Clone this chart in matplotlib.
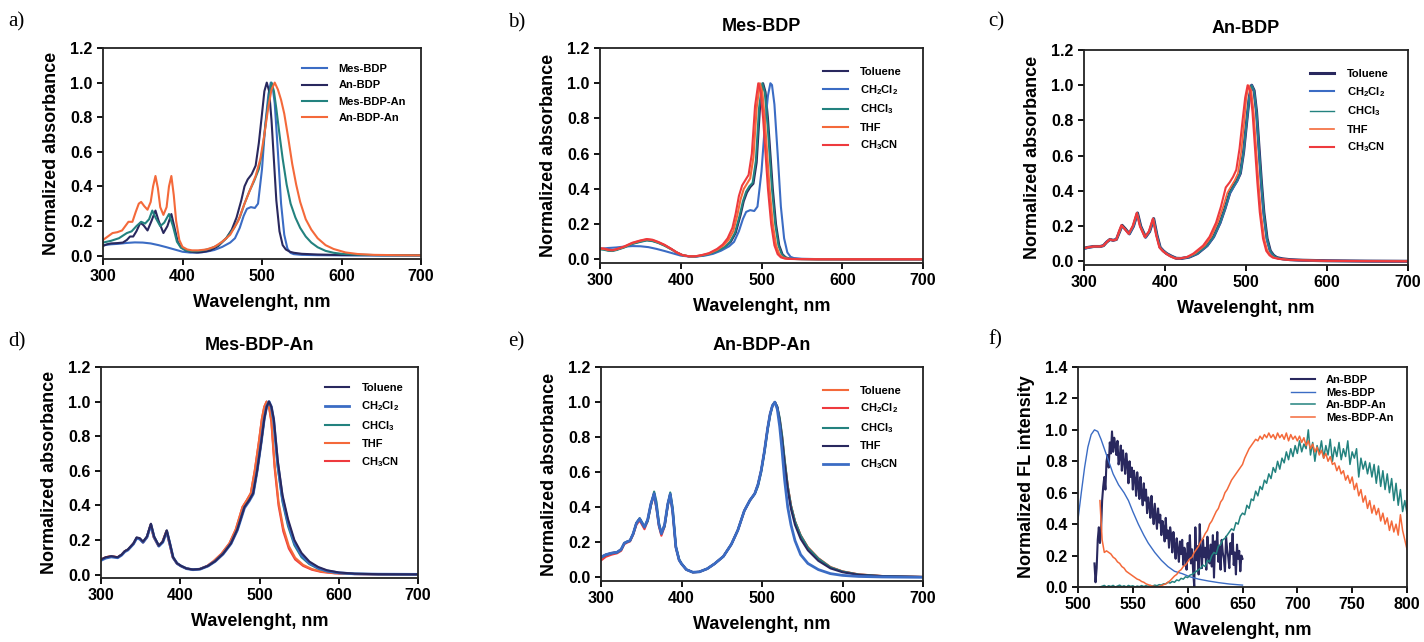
import numpy as np
import matplotlib
matplotlib.use("Agg")
import matplotlib.pyplot as plt

plt.rcParams['font.family'] = ['Liberation Sans', 'DejaVu Sans']
plt.rcParams['mathtext.fontset'] = 'custom'
plt.rcParams['mathtext.rm'] = 'Liberation Sans:bold'
plt.rcParams['mathtext.it'] = 'Liberation Sans:bold'
plt.rcParams['mathtext.bf'] = 'Liberation Sans:bold'

NAVY = '#29285e'
BLUE = '#3b6cc4'
TEAL = '#23827f'
ORANGE = '#f4693a'
RED = '#ee3a3e'

solvents = ['Toluene', 'CH$_2$Cl$_2$', 'CHCl$_3$', 'THF', 'CH$_3$CN']
compounds_a = ['Mes-BDP', 'An-BDP', 'Mes-BDP-An', 'An-BDP-An']
compounds_f = ['An-BDP', 'Mes-BDP', 'An-BDP-An', 'Mes-BDP-An']

# ---- Mes-BDP (CH2Cl2), used in a) and b)
mes_dcm_wl = [300, 310, 320, 330, 340, 350, 360, 370, 380, 390, 400, 410, 420, 430, 440, 450, 460, 466, 472, 477,
              481, 486, 491, 495, 500, 504, 508, 511, 513, 516, 520, 524, 528, 532, 536, 540, 550, 570, 600, 650, 700]
mes_dcm_abs = [0.06, 0.065, 0.068, 0.073, 0.076, 0.075, 0.07, 0.06, 0.048, 0.035, 0.022, 0.017, 0.017, 0.022, 0.032,
               0.05, 0.075, 0.1, 0.16, 0.23, 0.27, 0.28, 0.275, 0.3, 0.5, 0.75, 0.93, 1.0, 0.99, 0.88, 0.6, 0.3, 0.12,
               0.04, 0.015, 0.008, 0.004, 0.002, 0.001, 0.0, 0.0]

# ---- a) other compounds
a_an_wl = [300, 305, 310, 318, 325, 330, 334, 338, 342, 347, 351, 356, 361, 366, 370, 376, 381, 386, 390, 394, 398, 404,
           410, 418, 425, 435, 445, 455, 462, 468, 474, 478, 482, 487, 492, 496, 500, 503, 506, 509, 512, 515, 518, 522,
           526, 530, 535, 540, 550, 570, 600, 700]
a_an_abs = [0.055, 0.065, 0.07, 0.072, 0.075, 0.09, 0.11, 0.11, 0.14, 0.19, 0.175, 0.145, 0.2, 0.26, 0.2, 0.13, 0.17,
            0.24, 0.16, 0.08, 0.05, 0.03, 0.022, 0.018, 0.02, 0.03, 0.055, 0.1, 0.15, 0.22, 0.32, 0.4, 0.44, 0.47, 0.52,
            0.65, 0.82, 0.95, 1.0, 0.95, 0.78, 0.55, 0.32, 0.14, 0.06, 0.035, 0.022, 0.016, 0.01, 0.006, 0.003, 0.002]
a_mesan_wl = [300, 310, 320, 330, 336, 342, 348, 353, 358, 362, 366, 372, 377, 383, 388, 393, 398, 404, 410, 418, 426,
              435, 445, 455, 465, 472, 478, 484, 490, 496, 501, 505, 509, 512, 515, 518, 522, 526, 531, 536, 542, 548,
              555, 562, 570, 580, 590, 600, 620, 650, 700]
a_mesan_abs = [0.075, 0.085, 0.1, 0.13, 0.14, 0.17, 0.195, 0.185, 0.21, 0.26, 0.22, 0.17, 0.19, 0.24, 0.17, 0.08, 0.045,
               0.03, 0.025, 0.025, 0.03, 0.04, 0.06, 0.1, 0.16, 0.22, 0.3, 0.37, 0.43, 0.5, 0.62, 0.78, 0.93, 1.0, 0.95,
               0.85, 0.7, 0.56, 0.41, 0.3, 0.22, 0.16, 0.11, 0.075, 0.048, 0.027, 0.016, 0.01, 0.005, 0.002, 0.001]
a_anan_wl = [300, 306, 312, 318, 324, 328, 332, 337, 341, 345, 348, 352, 356, 360, 363, 366, 369, 372, 376, 380, 383,
             386, 389, 392, 396, 400, 406, 412, 420, 430, 440, 450, 460, 470, 478, 485, 492, 498, 503, 508, 512, 516,
             520, 524, 528, 533, 538, 543, 548, 555, 562, 570, 580, 590, 605, 620, 640, 670, 700]
a_anan_abs = [0.09, 0.11, 0.13, 0.135, 0.145, 0.17, 0.195, 0.195, 0.25, 0.3, 0.31, 0.285, 0.265, 0.31, 0.4, 0.46, 0.39,
              0.28, 0.235, 0.28, 0.4, 0.46, 0.35, 0.2, 0.09, 0.05, 0.035, 0.03, 0.03, 0.035, 0.05, 0.08, 0.12, 0.2, 0.3,
              0.38, 0.46, 0.56, 0.7, 0.86, 0.96, 1.0, 0.96, 0.9, 0.82, 0.68, 0.53, 0.41, 0.31, 0.21, 0.15, 0.1, 0.06,
              0.038, 0.018, 0.009, 0.004, 0.002, 0.001]

# ---- b) Mes-BDP in solvents
b_tol_wl = [300, 305, 310, 315, 320, 330, 340, 350, 358, 365, 372, 380, 388, 395, 402, 410, 418, 426, 435, 445, 455,
            462, 468, 474, 478, 482, 486, 490, 494, 498, 502, 505, 508, 511, 514, 518, 522, 526, 530, 535, 540, 550,
            570, 700]
b_tol_abs = [0.06, 0.058, 0.052, 0.05, 0.055, 0.07, 0.09, 0.102, 0.11, 0.106, 0.096, 0.08, 0.06, 0.04, 0.025, 0.018,
             0.017, 0.022, 0.03, 0.045, 0.07, 0.1, 0.15, 0.25, 0.33, 0.38, 0.41, 0.43, 0.55, 0.85, 1.0, 0.95, 0.8, 0.6,
             0.4, 0.2, 0.08, 0.03, 0.012, 0.005, 0.003, 0.002, 0.001, 0.001]
b_chcl3_wl = [300, 305, 310, 315, 320, 330, 340, 350, 358, 365, 372, 380, 388, 395, 402, 410, 418, 426, 435, 445, 455,
              461, 467, 473, 477, 481, 485, 489, 493, 497, 501, 504, 507, 510, 513, 517, 521, 525, 529, 534, 540, 550,
              570, 700]
b_chcl3_abs = [0.058, 0.055, 0.05, 0.048, 0.053, 0.068, 0.088, 0.1, 0.108, 0.104, 0.094, 0.078, 0.058, 0.039, 0.024,
               0.018, 0.017, 0.022, 0.031, 0.047, 0.072, 0.1, 0.15, 0.25, 0.33, 0.385, 0.415, 0.435, 0.56, 0.86, 1.0,
               0.95, 0.8, 0.6, 0.4, 0.2, 0.08, 0.03, 0.012, 0.005, 0.003, 0.002, 0.001, 0.001]
b_thf_wl = [300, 305, 310, 315, 320, 330, 340, 350, 358, 365, 372, 380, 388, 395, 402, 410, 418, 426, 435, 445, 453,
            459, 465, 470, 474, 478, 482, 486, 490, 494, 498, 501, 504, 507, 510, 514, 518, 522, 526, 531, 537, 550,
            570, 700]
b_thf_abs = [0.062, 0.06, 0.054, 0.052, 0.057, 0.072, 0.093, 0.106, 0.114, 0.11, 0.098, 0.082, 0.06, 0.04, 0.025,
             0.018, 0.018, 0.024, 0.034, 0.055, 0.08, 0.11, 0.16, 0.25, 0.34, 0.4, 0.43, 0.46, 0.58, 0.86, 1.0, 0.95,
             0.8, 0.6, 0.4, 0.2, 0.08, 0.03, 0.012, 0.005, 0.003, 0.002, 0.001, 0.001]
b_ch3cn_wl = [300, 305, 310, 315, 320, 330, 340, 350, 358, 365, 372, 380, 388, 395, 402, 410, 418, 426, 435, 445, 452,
              458, 464, 468, 472, 476, 480, 484, 488, 492, 496, 499, 502, 505, 508, 512, 516, 520, 524, 529, 535, 550,
              570, 700]
b_ch3cn_abs = [0.064, 0.062, 0.056, 0.053, 0.058, 0.074, 0.095, 0.108, 0.116, 0.112, 0.1, 0.083, 0.061, 0.04, 0.025,
               0.018, 0.018, 0.025, 0.036, 0.06, 0.085, 0.12, 0.18, 0.26, 0.36, 0.42, 0.45, 0.48, 0.6, 0.87, 1.0, 0.95,
               0.8, 0.6, 0.4, 0.2, 0.08, 0.03, 0.012, 0.005, 0.003, 0.002, 0.001, 0.001]

# ---- c) An-BDP in solvents
c_wl = [300, 305, 312, 320, 324, 328, 332, 336, 340, 344, 347, 351, 356, 361, 366, 370, 376, 381, 386, 390, 394, 398,
        402, 408, 414, 420, 430, 440, 452, 460, 468, 474, 480, 485, 489, 493, 497, 501, 504, 507, 510, 513, 516, 519,
        522, 526, 530, 534, 538, 545, 555, 570, 600, 650, 700]
c_tol_abs = [0.075, 0.08, 0.085, 0.085, 0.09, 0.11, 0.125, 0.12, 0.125, 0.17, 0.205, 0.185, 0.157, 0.2, 0.275, 0.2,
             0.138, 0.17, 0.243, 0.15, 0.08, 0.06, 0.045, 0.03, 0.018, 0.017, 0.025, 0.045, 0.09, 0.14, 0.22, 0.3,
             0.39, 0.43, 0.46, 0.5, 0.62, 0.8, 0.93, 1.0, 0.97, 0.85, 0.65, 0.45, 0.28, 0.13, 0.06, 0.035, 0.022,
             0.015, 0.01, 0.007, 0.004, 0.002, 0.001]
c_dcm_abs = [0.07, 0.078, 0.084, 0.084, 0.09, 0.112, 0.124, 0.12, 0.126, 0.172, 0.2, 0.182, 0.155, 0.198, 0.27, 0.198,
             0.136, 0.17, 0.24, 0.148, 0.08, 0.06, 0.045, 0.03, 0.018, 0.017, 0.025, 0.045, 0.088, 0.138, 0.216,
             0.295, 0.385, 0.425, 0.455, 0.5, 0.62, 0.8, 0.93, 1.0, 0.965, 0.84, 0.63, 0.43, 0.26, 0.12, 0.055, 0.032,
             0.02, 0.014, 0.009, 0.006, 0.003, 0.002, 0.001]
c_thf_wl = [300, 305, 312, 320, 324, 328, 332, 336, 340, 344, 346.5, 350.5, 355.5, 360.5, 365.5, 369.5, 375.5, 380.5,
            385.5, 389.5, 393.5, 397.5, 401.5, 407, 413, 419, 428, 437, 449, 457, 465, 471, 477, 482, 486, 490, 494,
            498, 500.5, 503.5, 506.5, 509.5, 512.5, 515.5, 518.5, 522.5, 526.5, 530.5, 534.5, 541.5, 552, 567, 597,
            647, 700]
c_red_wl = [300, 305, 312, 320, 324, 328, 332, 336, 340, 343, 346, 350, 355, 360, 365, 369, 375, 380, 385, 389, 393,
            397, 401, 406, 412, 418, 427, 435, 447, 455, 463, 469, 475, 480, 484, 488, 492, 496, 499, 502, 505, 508,
            511, 514, 517, 521, 525, 529, 533, 540, 550, 565, 595, 645, 700]
c_red_abs = [0.075, 0.08, 0.085, 0.085, 0.09, 0.11, 0.125, 0.12, 0.125, 0.17, 0.205, 0.185, 0.157, 0.2, 0.275, 0.2,
             0.138, 0.17, 0.243, 0.15, 0.08, 0.06, 0.045, 0.03, 0.018, 0.017, 0.025, 0.045, 0.09, 0.14, 0.22, 0.31,
             0.42, 0.45, 0.48, 0.52, 0.64, 0.81, 0.93, 1.0, 0.97, 0.85, 0.65, 0.45, 0.28, 0.13, 0.06, 0.035, 0.022,
             0.015, 0.01, 0.007, 0.004, 0.002, 0.001]

# ---- d) Mes-BDP-An in solvents
d_wl = [300, 306, 313, 321, 326, 330, 334, 337, 341, 345, 349, 353, 358, 363, 367, 373, 378, 383, 387, 391, 396, 401,
        408, 416, 425, 435, 444, 454, 464, 472, 481, 487, 492, 497, 502, 506, 509, 512, 515, 518, 523, 529, 536, 544,
        553, 563, 574, 585, 600, 620, 650, 700]
d_tol_abs = [0.087, 0.1, 0.106, 0.1, 0.115, 0.135, 0.145, 0.16, 0.18, 0.215, 0.21, 0.19, 0.22, 0.294, 0.22, 0.167,
             0.19, 0.256, 0.18, 0.1, 0.065, 0.05, 0.035, 0.029, 0.032, 0.05, 0.077, 0.12, 0.18, 0.26, 0.39, 0.43,
             0.47, 0.6, 0.76, 0.9, 0.97, 1.0, 0.97, 0.9, 0.66, 0.46, 0.32, 0.2, 0.125, 0.075, 0.044, 0.025, 0.012,
             0.005, 0.002, 0.001]
d_dcm_abs = [0.082, 0.095, 0.102, 0.097, 0.112, 0.132, 0.142, 0.157, 0.177, 0.21, 0.205, 0.186, 0.216, 0.288, 0.216,
             0.164, 0.187, 0.25, 0.176, 0.098, 0.064, 0.049, 0.034, 0.028, 0.031, 0.049, 0.076, 0.118, 0.178, 0.256,
             0.385, 0.425, 0.465, 0.6, 0.76, 0.9, 0.97, 1.0, 0.97, 0.89, 0.64, 0.44, 0.3, 0.185, 0.112, 0.066, 0.038,
             0.021, 0.01, 0.004, 0.002, 0.001]
d_chcl3_abs = [0.085, 0.098, 0.104, 0.099, 0.114, 0.134, 0.144, 0.159, 0.179, 0.212, 0.207, 0.188, 0.218, 0.29,
               0.218, 0.166, 0.189, 0.253, 0.178, 0.1, 0.065, 0.05, 0.035, 0.029, 0.032, 0.05, 0.077, 0.12, 0.18,
               0.26, 0.39, 0.43, 0.47, 0.6, 0.76, 0.9, 0.97, 1.0, 0.965, 0.88, 0.62, 0.42, 0.28, 0.17, 0.1, 0.06,
               0.034, 0.019, 0.009, 0.004, 0.002, 0.001]
d_red_wl = [300, 306, 313, 321, 326, 330, 334, 337, 341, 345, 349, 353, 358, 362.5, 366.5, 372.5, 377.5, 382.5, 386.5,
            390.5, 395.5, 400.5, 407.5, 415.5, 424.5, 434, 442, 452, 462, 470, 478.5, 484, 489, 494, 499, 503, 506,
            509, 512, 515, 519, 524, 530, 537, 545, 555, 566, 578, 595, 620, 650, 700]
d_thf_abs = [0.087, 0.1, 0.106, 0.1, 0.115, 0.135, 0.145, 0.16, 0.18, 0.212, 0.207, 0.187, 0.217, 0.29, 0.217, 0.166,
             0.19, 0.252, 0.177, 0.1, 0.065, 0.05, 0.035, 0.029, 0.032, 0.05, 0.077, 0.12, 0.18, 0.26, 0.39, 0.43,
             0.47, 0.6, 0.76, 0.9, 0.97, 1.0, 0.97, 0.89, 0.64, 0.42, 0.27, 0.165, 0.097, 0.056, 0.032, 0.017, 0.008,
             0.003, 0.001, 0.0]
d_ch3cn_abs = [0.087, 0.1, 0.106, 0.1, 0.115, 0.135, 0.145, 0.16, 0.18, 0.21, 0.205, 0.185, 0.215, 0.285, 0.215,
               0.165, 0.19, 0.25, 0.175, 0.1, 0.065, 0.05, 0.035, 0.029, 0.032, 0.05, 0.077, 0.12, 0.18, 0.26, 0.39,
               0.43, 0.47, 0.6, 0.76, 0.9, 0.97, 1.0, 0.97, 0.88, 0.62, 0.4, 0.25, 0.15, 0.087, 0.05, 0.028, 0.015,
               0.007, 0.003, 0.001, 0.0]

# ---- e) An-BDP-An in solvents
e_wl = [300, 306, 313, 320, 325, 329, 333, 336, 340, 344, 348, 351, 354, 358, 362, 366, 369, 372, 375, 379, 383, 386,
        389, 393, 397, 400, 406, 414, 422, 432, 441, 452, 462, 470, 478, 485, 491, 495, 499, 503, 507, 510, 513, 516,
        519, 522, 525, 528, 532, 536, 541, 548, 557, 570, 585, 600, 620, 650, 700]
e_tol_abs = [0.116, 0.13, 0.139, 0.144, 0.16, 0.196, 0.205, 0.21, 0.25, 0.31, 0.335, 0.31, 0.287, 0.33, 0.42, 0.478,
             0.4, 0.3, 0.25, 0.3, 0.42, 0.475, 0.38, 0.173, 0.1, 0.078, 0.045, 0.03, 0.032, 0.05, 0.078, 0.12, 0.19,
             0.27, 0.38, 0.44, 0.478, 0.53, 0.61, 0.72, 0.85, 0.93, 0.98, 1.0, 0.97, 0.9, 0.8, 0.67, 0.52, 0.41, 0.32,
             0.24, 0.173, 0.11, 0.06, 0.035, 0.018, 0.008, 0.003]
e_dcm_abs = [0.097, 0.118, 0.13, 0.138, 0.152, 0.19, 0.2, 0.205, 0.244, 0.3, 0.325, 0.3, 0.275, 0.322, 0.41, 0.47,
             0.39, 0.29, 0.238, 0.29, 0.41, 0.468, 0.37, 0.17, 0.1, 0.078, 0.045, 0.03, 0.032, 0.05, 0.078, 0.12,
             0.19, 0.27, 0.38, 0.44, 0.478, 0.53, 0.61, 0.72, 0.85, 0.93, 0.98, 1.0, 0.97, 0.9, 0.8, 0.67, 0.52, 0.41,
             0.32, 0.24, 0.17, 0.108, 0.058, 0.034, 0.017, 0.008, 0.003]
e_chcl3_abs = [0.112, 0.128, 0.138, 0.143, 0.158, 0.195, 0.205, 0.21, 0.248, 0.31, 0.338, 0.315, 0.29, 0.32, 0.41,
               0.49, 0.43, 0.31, 0.255, 0.29, 0.41, 0.485, 0.4, 0.18, 0.105, 0.08, 0.046, 0.03, 0.032, 0.05, 0.078,
               0.12, 0.19, 0.27, 0.38, 0.44, 0.476, 0.52, 0.6, 0.71, 0.84, 0.92, 0.98, 1.0, 0.975, 0.91, 0.81, 0.68,
               0.52, 0.41, 0.32, 0.24, 0.17, 0.108, 0.058, 0.034, 0.017, 0.008, 0.003]
e_thf_abs = [0.116, 0.13, 0.139, 0.144, 0.16, 0.196, 0.205, 0.21, 0.25, 0.31, 0.335, 0.31, 0.287, 0.33, 0.42, 0.478,
             0.4, 0.3, 0.25, 0.3, 0.42, 0.475, 0.38, 0.173, 0.1, 0.078, 0.045, 0.03, 0.032, 0.05, 0.078, 0.12, 0.19,
             0.27, 0.38, 0.44, 0.478, 0.53, 0.61, 0.72, 0.85, 0.93, 0.98, 1.0, 0.97, 0.89, 0.78, 0.65, 0.5, 0.39, 0.3,
             0.22, 0.155, 0.095, 0.052, 0.03, 0.015, 0.007, 0.003]
e_ch3cn_abs = [0.116, 0.13, 0.139, 0.144, 0.16, 0.196, 0.205, 0.21, 0.25, 0.31, 0.335, 0.31, 0.287, 0.33, 0.42,
               0.478, 0.4, 0.3, 0.25, 0.3, 0.42, 0.475, 0.38, 0.173, 0.1, 0.078, 0.045, 0.03, 0.032, 0.05, 0.078, 0.12,
               0.19, 0.27, 0.38, 0.44, 0.478, 0.53, 0.61, 0.72, 0.85, 0.93, 0.98, 1.0, 0.96, 0.86, 0.72, 0.56, 0.4,
               0.3, 0.21, 0.13, 0.08, 0.045, 0.022, 0.012, 0.006, 0.003, 0.001]

# ---- f) fluorescence
f_mes_wl = [500, 503, 506, 509, 512, 515, 518, 521, 524, 528, 532, 537, 542, 546, 550, 555, 560, 564, 570, 576, 582,
            588, 595, 602, 610, 619, 628, 638, 650]
f_mes_fl = [0.43, 0.6, 0.76, 0.89, 0.97, 1.0, 0.99, 0.94, 0.88, 0.8, 0.72, 0.65, 0.6, 0.55, 0.48, 0.4, 0.33, 0.28,
            0.22, 0.17, 0.13, 0.1, 0.085, 0.065, 0.05, 0.038, 0.028, 0.019, 0.012]
f_an_wl = np.arange(515, 651, 1)
f_an_fl = [0.15, 0.03, 0.12, 0.30, 0.38, 0.28, 0.36, 0.55, 0.64, 0.70,
           0.62, 0.80, 0.84, 0.76, 0.92, 0.85, 0.99, 0.86, 0.95, 0.90,
           0.84, 0.93, 0.78, 0.82, 0.90, 0.74, 0.87, 0.80, 0.72, 0.85,
           0.78, 0.66, 0.80, 0.70, 0.76, 0.62, 0.74, 0.69, 0.58, 0.73,
           0.64, 0.56, 0.70, 0.60, 0.52, 0.66, 0.55, 0.62, 0.47, 0.57,
           0.52, 0.44, 0.58, 0.48, 0.40, 0.53, 0.45, 0.37, 0.50, 0.41,
           0.46, 0.33, 0.42, 0.38, 0.29, 0.44, 0.31, 0.36, 0.25, 0.38,
           0.33, 0.22, 0.35, 0.27, 0.18, 0.31, 0.24, 0.16, 0.29, 0.21,
           0.30, 0.14, 0.25, 0.20, 0.11, 0.28, 0.18, 0.33, 0.15, 0.24,
           0.10, 0.00, 0.38, 0.17, 0.26, 0.08, 0.40, 0.22, 0.12, 0.30,
           0.19, 0.25, 0.11, 0.32, 0.20, 0.15, 0.27, 0.13, 0.33, 0.06,
           0.29, 0.21, 0.35, 0.16, 0.26, 0.11, 0.30, 0.22, 0.18, 0.10,
           0.32, 0.24, 0.19, 0.12, 0.28, 0.21, 0.34, 0.14, 0.22, 0.08,
           0.27, 0.18, 0.23, 0.10, 0.20, 0.18]
f_anan_wl = np.arange(520, 801, 2)
f_anan_fl = [0.0, 0.005, 0.01, 0.0, 0.008, 0.003, 0.01, 0.0, 0.006, 0.012, 0.002, 0.008, 0.0, 0.01, 0.004, 0.008, 0.0,
             0.006, 0.002, 0.009, 0.003, 0.008, 0.004, 0.010, 0.006, 0.012, 0.008, 0.015, 0.012, 0.02,
             0.02, 0.03, 0.025, 0.035, 0.03, 0.045, 0.04, 0.055, 0.05, 0.065, 0.06, 0.075, 0.08, 0.09, 0.10, 0.11,
             0.12, 0.14, 0.13, 0.17, 0.16, 0.2, 0.22, 0.21, 0.26, 0.27, 0.3, 0.31, 0.33, 0.35, 0.37,
             0.36, 0.41, 0.40, 0.45, 0.47, 0.46, 0.52, 0.50, 0.56, 0.55, 0.61, 0.58, 0.64, 0.62, 0.68, 0.66, 0.72,
             0.69, 0.76, 0.73, 0.80, 0.75, 0.82, 0.79, 0.86, 0.81, 0.88, 0.83, 0.90, 0.85,
             0.93, 0.86, 0.91, 0.88, 1.0, 0.84, 0.92, 0.80, 0.90, 0.85, 0.93, 0.82, 0.90, 0.84, 0.94, 0.80, 0.89,
             0.83, 0.92, 0.81, 0.88, 0.83, 0.93, 0.78, 0.86, 0.82, 0.88, 0.70, 0.82, 0.75,
             0.80, 0.72, 0.79, 0.70, 0.78, 0.66, 0.77, 0.64, 0.74, 0.62, 0.72, 0.60, 0.69, 0.55, 0.66, 0.52, 0.62,
             0.48, 0.55, 0.47]
f_mesan_wl = np.arange(520, 801, 2)
f_mesan_fl = [0.55, 0.30, 0.22, 0.23, 0.22, 0.21, 0.19, 0.18, 0.16, 0.15, 0.13, 0.12, 0.10, 0.09, 0.08, 0.07, 0.06,
              0.05, 0.045, 0.035, 0.03, 0.02, 0.015, 0.01, 0.005, 0.003, 0.0, 0.004, 0.008, 0.015,
              0.02, 0.03, 0.04, 0.055, 0.07, 0.08, 0.10, 0.11, 0.13, 0.14, 0.16, 0.18, 0.19, 0.22, 0.24, 0.26, 0.29,
              0.31, 0.34, 0.36, 0.40, 0.42, 0.45, 0.48, 0.50, 0.54, 0.56, 0.60, 0.62, 0.65, 0.68,
              0.70, 0.72, 0.74, 0.76, 0.78, 0.82, 0.85, 0.88, 0.90, 0.92, 0.94, 0.93, 0.96, 0.94, 0.97, 0.95, 0.98,
              0.95, 0.97, 0.94, 0.98, 0.95, 0.97, 0.94, 0.98, 0.93, 0.97, 0.94, 0.96, 0.93,
              0.96, 0.92, 0.95, 0.90, 0.93, 0.88, 0.91, 0.86, 0.89, 0.84, 0.87, 0.82, 0.85, 0.80, 0.83, 0.78, 0.79,
              0.74, 0.77, 0.72, 0.74, 0.68, 0.71, 0.66, 0.70, 0.62, 0.66, 0.58, 0.62, 0.54,
              0.58, 0.50, 0.55, 0.47, 0.52, 0.46, 0.50, 0.42, 0.47, 0.40, 0.44, 0.36, 0.42, 0.35, 0.40, 0.33, 0.46,
              0.36, 0.30, 0.24]

W, H = 1424, 642
fig = plt.figure(figsize=(W / 100, H / 100), dpi=100)


def box(l, r, t, b):
    return [l / W, 1 - b / H, (r - l) / W, (b - t) / H]


def style(ax, ylabel, title=None):
    for s in ax.spines.values():
        s.set_linewidth(1.3)
        s.set_color('#222222')
    ax.tick_params(direction='out', length=4.5, width=1.3, labelsize=11.5, pad=3)
    for lab in ax.get_xticklabels() + ax.get_yticklabels():
        lab.set_fontweight('bold')
    ax.set_xlabel('Wavelenght, nm', fontsize=13, fontweight='bold', labelpad=7)
    ax.set_ylabel(ylabel, fontsize=13, fontweight='bold', labelpad=7)
    if title:
        ax.set_title(title, fontsize=13, fontweight='bold', pad=12)


def abs_axes(rect):
    ax = fig.add_axes(rect)
    ax.set_xlim(300, 700)
    ax.set_ylim(-0.02, 1.2)
    ax.set_xticks([300, 400, 500, 600, 700])
    ax.set_yticks([0.0, 0.2, 0.4, 0.6, 0.8, 1.0, 1.2])
    ax.yaxis.set_major_formatter(matplotlib.ticker.FormatStrFormatter('%.1f'))
    return ax


def legend(ax, anchor, spacing=0.55, size=8):
    ax.legend(loc='upper right', bbox_to_anchor=anchor, frameon=False, handlelength=2.2, handletextpad=1.1,
              labelspacing=spacing, prop={'weight': 'bold', 'size': size})


LW = 1.5

# a)
ax = abs_axes(box(103, 421, 48, 259))
ax.plot(mes_dcm_wl, mes_dcm_abs, color=BLUE, lw=LW, label=compounds_a[0])
ax.plot(a_an_wl, a_an_abs, color=NAVY, lw=LW, label=compounds_a[1])
ax.plot(a_mesan_wl, a_mesan_abs, color=TEAL, lw=LW, label=compounds_a[2])
ax.plot(a_anan_wl, a_anan_abs, color=ORANGE, lw=LW, label=compounds_a[3])
style(ax, 'Normalized absorbance')
legend(ax, (0.985, 0.97))

# b)
ax = abs_axes(box(600, 923, 48, 263))
ax.plot(b_tol_wl, b_tol_abs, color=NAVY, lw=LW, label=solvents[0])
ax.plot(mes_dcm_wl, mes_dcm_abs, color=BLUE, lw=LW, label=solvents[1])
ax.plot(b_chcl3_wl, b_chcl3_abs, color=TEAL, lw=LW, label=solvents[2])
ax.plot(b_thf_wl, b_thf_abs, color=ORANGE, lw=LW, label=solvents[3])
ax.plot(b_ch3cn_wl, b_ch3cn_abs, color=RED, lw=LW, label=solvents[4])
style(ax, 'Normalized absorbance', 'Mes-BDP')
legend(ax, (0.965, 0.96))

# c)
ax = abs_axes(box(1084, 1408, 50, 265))
ax.plot(c_wl, c_tol_abs, color=NAVY, lw=2.2, label=solvents[0])
ax.plot(c_wl, c_dcm_abs, color=BLUE, lw=LW, label=solvents[1])
ax.plot(c_wl, c_tol_abs, color=TEAL, lw=1.0, label=solvents[2])
ax.plot(c_thf_wl, c_tol_abs, color=ORANGE, lw=1.2, label=solvents[3])
ax.plot(c_red_wl, c_red_abs, color=RED, lw=LW, label=solvents[4])
style(ax, 'Normalized absorbance', 'An-BDP')
legend(ax, (0.97, 0.96))

# d)
ax = abs_axes(box(101, 418, 367, 578))
ax.plot(d_red_wl, d_ch3cn_abs, color=RED, lw=LW, label=solvents[4])
ax.plot(d_red_wl, d_thf_abs, color=ORANGE, lw=LW, label=solvents[3])
ax.plot(d_wl, d_chcl3_abs, color=TEAL, lw=LW, label=solvents[2])
ax.plot(d_wl, d_dcm_abs, color=BLUE, lw=2.0, label=solvents[1])
ax.plot(d_wl, d_tol_abs, color=NAVY, lw=LW, label=solvents[0])
style(ax, 'Normalized absorbance', 'Mes-BDP-An')
h, l = ax.get_legend_handles_labels()
ax.legend(h[::-1], l[::-1], loc='upper right', bbox_to_anchor=(0.985, 0.97), frameon=False, handlelength=2.2,
          handletextpad=1.1, labelspacing=0.55, prop={'weight': 'bold', 'size': 8})

# e)
ax = abs_axes(box(601, 923, 367, 581))
ax.plot(e_wl, e_tol_abs, color=ORANGE, lw=LW, label=solvents[0])
ax.plot(e_wl, e_dcm_abs, color=RED, lw=LW, label=solvents[1])
ax.plot(e_wl, e_chcl3_abs, color=TEAL, lw=LW, label=solvents[2])
ax.plot(e_wl, e_thf_abs, color=NAVY, lw=LW, label=solvents[3])
ax.plot(e_wl, e_ch3cn_abs, color=BLUE, lw=2.0, label=solvents[4])
style(ax, 'Normalized absorbance', 'An-BDP-An')
legend(ax, (0.965, 0.96))

# f)
ax = fig.add_axes(box(1078, 1407, 367, 587))
ax.set_xlim(500, 800)
ax.set_ylim(0, 1.4)
ax.set_xticks([500, 550, 600, 650, 700, 750, 800])
ax.set_yticks([0.0, 0.2, 0.4, 0.6, 0.8, 1.0, 1.2, 1.4])
ax.yaxis.set_major_formatter(matplotlib.ticker.FormatStrFormatter('%.1f'))
ax.plot(f_an_wl, f_an_fl, color=NAVY, lw=1.5, label=compounds_f[0])
ax.plot(f_mes_wl, f_mes_fl, color=BLUE, lw=1.0, label=compounds_f[1])
ax.plot(f_anan_wl, f_anan_fl, color=TEAL, lw=1.1, label=compounds_f[2])
ax.plot(f_mesan_wl, f_mesan_fl, color=ORANGE, lw=1.1, label=compounds_f[3])
style(ax, 'Normalized FL intensity')
ax.legend(loc='upper right', bbox_to_anchor=(0.99, 1.01), frameon=False, handlelength=2.2, handletextpad=1.0,
          labelspacing=0.25, prop={'weight': 'bold', 'size': 8})

# panel letters
for x, y, s in [(8, 22, 'a)'), (508, 23, 'b)'), (988, 22, 'c)'),
                (8, 342, 'd)'), (508, 342, 'e)'), (988, 340, 'f)')]:
    fig.text(x / W, 1 - y / H, s, fontsize=15, family='Liberation Serif', va='center', ha='left')

fig.savefig('out.png', dpi=100)
